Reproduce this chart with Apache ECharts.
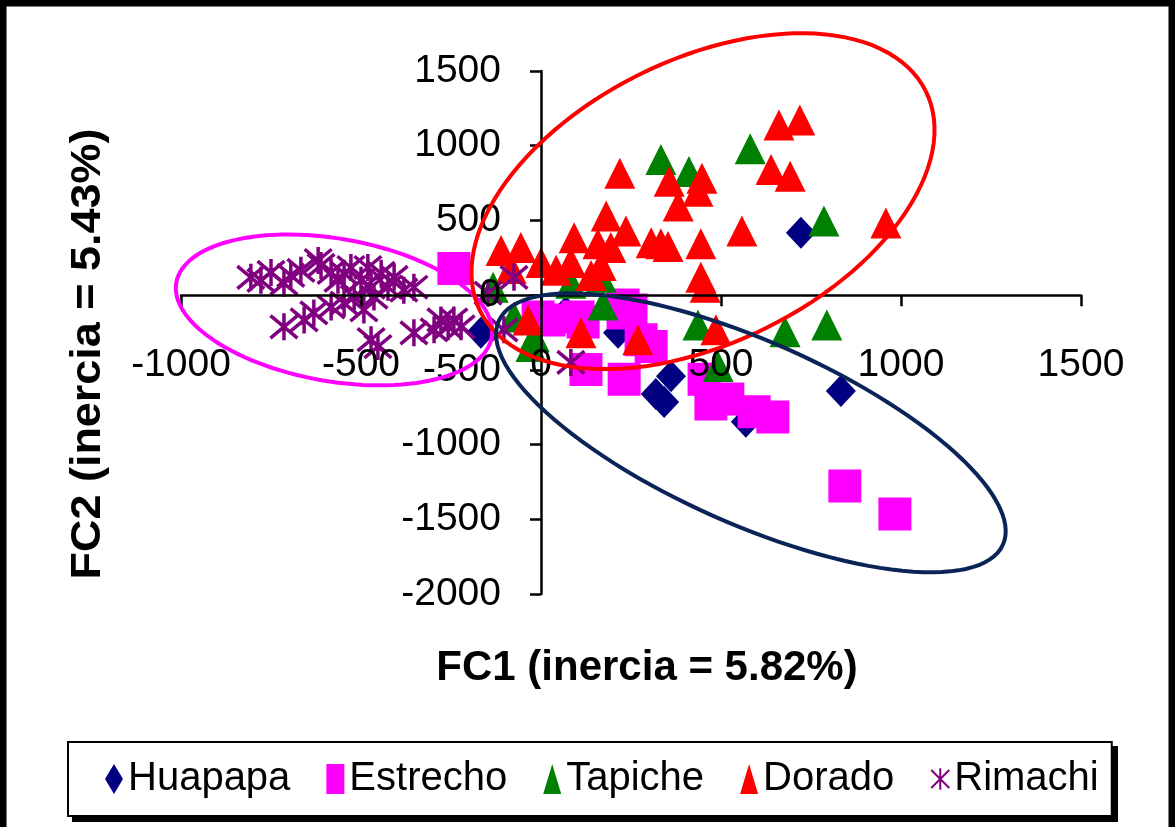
<!DOCTYPE html>
<html>
<head>
<meta charset="utf-8">
<script src="https://cdn.jsdelivr.net/npm/echarts@6/dist/echarts.min.js"></script>
<style>
  html, body { margin: 0; padding: 0; background: #fff; }
  #chart { width: 1175px; height: 827px; }
</style>
</head>
<body>
<div id="chart"></div>
<script>
const chart = echarts.init(document.getElementById("chart"));

const FONT = "Liberation Sans, Arial, sans-serif";

// [FC1, FC2] per sample
const huapapa = [
  [722, 417], [833, -642], [69, -113], [214, -252], [361, -543],
  [342, -715], [569, -848], [-167, -252], [319, -662]
];
const estrecho = [
  [-242, 179], [-8, -146], [22, -166], [117, -179], [228, -66],
  [228, -119], [278, -298], [306, -344], [125, -497], [231, -563],
  [453, -563], [472, -728], [519, -695], [592, -781], [644, -815],
  [844, -1278], [983, -1464], [250, -99], [103, -146]
];
const tapiche = [
  [333, 907], [411, 828], [581, 980], [786, 497], [436, -199],
  [678, -245], [794, -199], [492, -477], [172, -66], [-28, -344],
  [-133, 53], [83, 79], [-75, -146], [-19, -278], [167, 119]
];
const dorado = [
  [219, 815], [661, 1139], [719, 1172], [639, 841], [692, 795],
  [356, 762], [447, 782], [436, 695], [381, 596], [181, 530],
  [236, 430], [158, 344], [194, 318], [306, 351], [333, 344],
  [353, 325], [444, 344], [558, 430], [958, 483], [92, 384],
  [-56, 318], [-111, 298], [0, 219], [83, 219], [139, 132],
  [444, 119], [456, 53], [-36, -166], [111, -252], [269, -298],
  [486, -232], [42, 166], [-83, 179], [167, 199]
];
const rimachi = [
  [-806, 119], [-778, 99], [-750, 152], [-714, 79], [-695, 132],
  [-667, 166], [-619, 232], [-611, 199], [-583, 152], [-564, 99],
  [-547, 146], [-528, 185], [-500, 99], [-481, 185], [-472, 53],
  [-444, 146], [-425, 53], [-408, 119], [-381, 33], [-353, 53],
  [-714, -212], [-658, -166], [-631, -119], [-583, -79], [-547, -53],
  [-519, -13], [-492, -99], [-464, -13], [-453, -344], [-353, -252],
  [-278, -166], [-242, -166], [-222, -212], [-297, -232], [-147, 13],
  [-75, 119], [83, -450], [-103, -232], [-472, -298], [-258, -212]
];

// group ellipses: [centerX, centerY, halfAxis1 dx, dy, halfAxis2 dx, dy] in data units
const ellipses = [
  [-575, -99, 438, -184, -35, -470],
  [450, 629, 618, 740, 178, -846],
  [583, -921, 700, -750, -105, -556]
];
const ellipseColors = ["#ff00ff", "#ff0000", "#0a2458"];

const xTicks = { min: -1000, max: 1500, step: 500 };
const yTicks = { min: -2000, max: 1500, step: 500 };

const starPath = "path://M0,0L20,20M20,0L0,20M10,-2L10,22";

// grid box in pixels; axes are shifted so they cross at (0, 0)
const GRID = { left: 181, right: 94, top: 71, bottom: 233 };
const gridW = 1175 - GRID.left - GRID.right;
const gridH = 827 - GRID.top - GRID.bottom;
const xZeroOffset = -gridW * (0 - xTicks.min) / (xTicks.max - xTicks.min);
const yZeroOffset = -gridH * (0 - yTicks.min) / (yTicks.max - yTicks.min);

function scatter(name, data, symbol, size, color, extra) {
  return Object.assign({
    name: name,
    type: "scatter",
    data: data,
    symbol: symbol,
    symbolSize: size,
    itemStyle: { color: color, opacity: 1 },
    emphasis: { disabled: true },
    z: 2
  }, extra || {});
}

const axisCommon = {
  type: "value",
  z: 3,
  splitLine: { show: false },
  axisLine: { onZero: false, lineStyle: { color: "#000", width: 2.5 } },
  axisTick: { show: true, length: 11, lineStyle: { color: "#000", width: 2.5 } },
  axisLabel: { color: "#000", fontSize: 39, fontFamily: FONT, formatter: v => String(v) }
};

chart.setOption({
  backgroundColor: "#fff",
  animation: false,
  grid: Object.assign({ outerBoundsMode: "none" }, GRID),
  xAxis: Object.assign({}, axisCommon, {
    position: "bottom",
    offset: yZeroOffset,
    min: xTicks.min, max: xTicks.max, interval: xTicks.step,
    axisLabel: Object.assign({}, axisCommon.axisLabel, { margin: 51 })
  }),
  yAxis: Object.assign({}, axisCommon, {
    position: "left",
    offset: xZeroOffset,
    min: yTicks.min, max: yTicks.max, interval: yTicks.step,
    axisLabel: Object.assign({}, axisCommon.axisLabel, { margin: 40 })
  }),
  legend: {
    left: 68,
    top: 742,
    z: 10,
    data: ["Huapapa", "Estrecho", "Tapiche", "Dorado", "Rimachi"],
    itemWidth: 18,
    itemHeight: 30,
    itemGap: 36,
    padding: [17, 13, 17, 37],
    borderColor: "#000",
    borderWidth: 2,
    backgroundColor: "#fff",
    textStyle: { color: "#000", fontSize: 40, fontFamily: FONT }
  },
  graphic: [
    {
      type: "rect",
      shape: { x: 3, y: 3, width: 1169, height: 850 },
      style: { fill: "none", stroke: "#000", lineWidth: 7 },
      silent: true
    },
    {
      // drop shadow of the legend box
      type: "rect",
      z: 1,
      shape: { x: 72, y: 746, width: 1046, height: 76 },
      style: { fill: "#000" },
      silent: true
    },
    {
      type: "text",
      x: 647, y: 668,
      style: {
        text: "FC1 (inercia = 5.82%)",
        font: "bold 42px " + FONT,
        fill: "#000",
        align: "center",
        verticalAlign: "middle"
      }
    },
    {
      type: "text",
      x: 88, y: 354,
      rotation: Math.PI / 2,
      scaleX: 1.07,
      style: {
        text: "FC2 (inercia = 5.43%)",
        font: "bold 42px " + FONT,
        fill: "#000",
        align: "center",
        verticalAlign: "middle"
      }
    }
  ],
  series: [
    scatter("Huapapa", huapapa, "diamond", [30, 32], "#000080"),
    scatter("Estrecho", estrecho, "rect", [33, 33], "#ff00ff"),
    scatter("Tapiche", tapiche, "triangle", [31, 31], "#008000"),
    scatter("Dorado", dorado, "triangle", [31, 31], "#ff0000"),
    scatter("Rimachi", rimachi, starPath, [27, 27], "rgba(0,0,0,0)", {
      itemStyle: { color: "rgba(0,0,0,0)", borderColor: "#800080", borderWidth: 3.5, opacity: 1 }
    }),
    {
      type: "custom",
      name: "ellipses",
      data: ellipses,
      encode: { x: 0, y: 1 },
      clip: false,
      silent: true,
      z: 5,
      renderItem: function (params, api) {
        const cx = api.value(0), cy = api.value(1);
        const ax = api.value(2), ay = api.value(3);
        const bx = api.value(4), by = api.value(5);
        const pts = [];
        for (let i = 0; i <= 120; i++) {
          const t = (i / 120) * Math.PI * 2;
          pts.push(api.coord([
            cx + ax * Math.cos(t) + bx * Math.sin(t),
            cy + ay * Math.cos(t) + by * Math.sin(t)
          ]));
        }
        return {
          type: "polyline",
          shape: { points: pts },
          style: { fill: "none", stroke: ellipseColors[params.dataIndex], lineWidth: 4 }
        };
      }
    }
  ]
});
</script>
</body>
</html>
